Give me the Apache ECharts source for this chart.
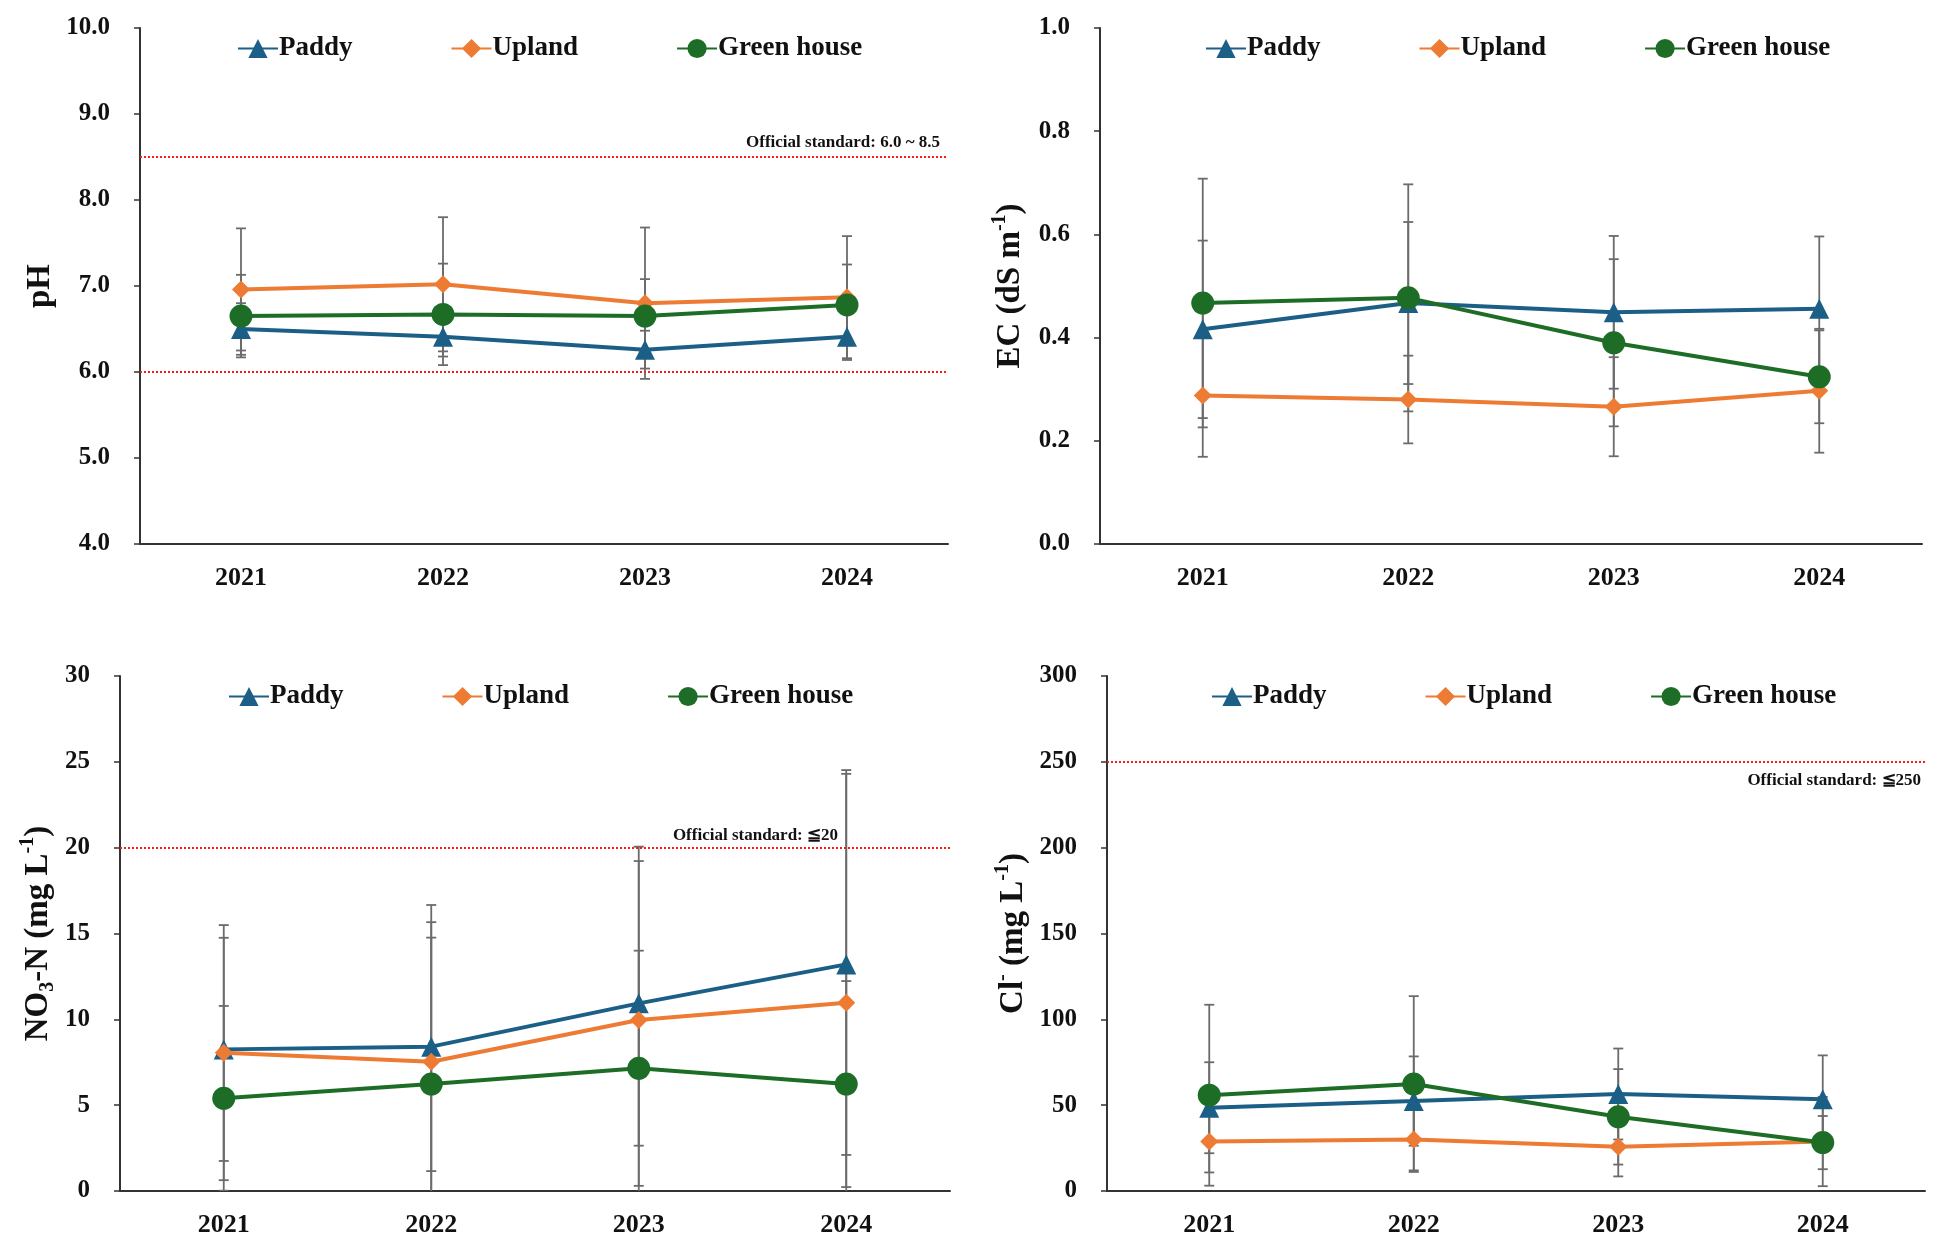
<!DOCTYPE html>
<html><head><meta charset="utf-8">
<script src="https://cdn.jsdelivr.net/npm/echarts/dist/echarts.min.js"></script>
<style>html,body{margin:0;padding:0;background:#fff}#c{width:1938px;height:1243px}</style>
</head><body><div id="c"></div><script>
// ---------- data ----------
const years = ['2021', '2022', '2023', '2024'];
const seriesNames = ['Paddy', 'Upland', 'Green house'];

const phPaddy = [6.50, 6.41, 6.26, 6.41];
const phPaddySd = [0.30, 0.23, 0.22, 0.27];
const phUpland = [6.96, 7.02, 6.80, 6.87];
const phUplandSd = [0.71, 0.78, 0.88, 0.71];
const phGreen = [6.65, 6.67, 6.65, 6.78];
const phGreenSd = [0.48, 0.59, 0.43, 0.47];

const ecPaddy = [0.416, 0.467, 0.449, 0.456];
const ecPaddySd = [0.172, 0.157, 0.148, 0.140];
const ecUpland = [0.288, 0.280, 0.266, 0.297];
const ecUplandSd = [0.119, 0.085, 0.096, 0.120];
const ecGreen = [0.467, 0.477, 0.390, 0.324];
const ecGreenSd = [0.241, 0.220, 0.162, 0.090];

const no3Paddy = [8.25, 8.41, 10.93, 13.2];
const no3PaddySd = [6.50, 7.25, 8.29, 11.1];
const no3Upland = [8.06, 7.53, 9.96, 10.97];
const no3UplandSd = [7.43, 9.13, 10.1, 13.55];
const no3Green = [5.40, 6.23, 7.15, 6.23];
const no3GreenSd = [5.38, 8.53, 6.85, 6.0];

const clPaddy = [48.5, 52.4, 56.5, 53.5];
const clPaddySd = [26.5, 26.0, 26.5, 25.5];
const clUpland = [28.8, 30.0, 25.8, 28.8];
const clUplandSd = [18.0, 18.0, 17.3, 26.0];
const clGreen = [55.8, 62.3, 43.2, 28.2];
const clGreenSd = [52.7, 51.2, 27.8, 15.5];

const phStd = [6.0, 8.5];
const no3Std = [20];
const clStd = [250];
const phStdLabel = 'Official standard: 6.0 ~ 8.5';
const no3StdLabel = 'Official standard: \u226620';
const clStdLabel = 'Official standard: \u2266250';

const phTicks = {min: 4, max: 10, interval: 1};
const ecTicks = {min: 0, max: 1, interval: 0.2};
const no3Ticks = {min: 0, max: 30, interval: 5};
const clTicks = {min: 0, max: 300, interval: 50};

// ---------- styling / layout ----------
const FONT = '"Liberation Serif","Times New Roman",serif';
const COLORS = ['#1C5F86', '#EE7B33', '#1E6D26'];
const SYMBOLS = ['triangle', 'diamond', 'circle'];
const SYMSIZE = [20, 18, 23];

const panels = [
  {grid: {left: 140, top: 28, width: 808, height: 516}, ticks: phTicks, dec: 1,
   name: '{a|pH}', nameGap: 80, legend: {left: 232, top: 30},
   means: [phPaddy, phUpland, phGreen], sds: [phPaddySd, phUplandSd, phGreenSd],
   std: phStd, stdLabel: phStdLabel, labelIdx: 1, labelPos: 'insideEndTop', labelPad: [0, 4, 2, 0]},
  {grid: {left: 1100, top: 28, width: 822, height: 516}, ticks: ecTicks, dec: 1,
   name: '{a|EC (dS m}{s|-1}{a|)}', nameGap: 70, legend: {left: 1200, top: 30},
   means: [ecPaddy, ecUpland, ecGreen], sds: [ecPaddySd, ecUplandSd, ecGreenSd],
   std: null},
  {grid: {left: 120, top: 676, width: 830, height: 515}, ticks: no3Ticks, dec: 0,
   name: '{a|NO}{b|3}{a|-N (mg L}{s|-1}{a|)}', nameGap: 62, legend: {left: 223, top: 678},
   means: [no3Paddy, no3Upland, no3Green], sds: [no3PaddySd, no3UplandSd, no3GreenSd],
   std: no3Std, stdLabel: no3StdLabel, labelIdx: 0, labelPos: 'insideEndTop', labelPad: [0, 108, 0, 0]},
  {grid: {left: 1107, top: 676, width: 818, height: 515}, ticks: clTicks, dec: 0,
   name: '{a|Cl}{s|-}{a| (mg L}{s|-1}{a|)}', nameGap: 74, legend: {left: 1206, top: 678},
   means: [clPaddy, clUpland, clGreen], sds: [clPaddySd, clUplandSd, clGreenSd],
   std: clStd, stdLabel: clStdLabel, labelIdx: 0, labelPos: 'insideEndBottom', labelPad: [6, 0, 0, 0]}
];

const option = {
  backgroundColor: '#fff',
  animation: false,
  textStyle: {fontFamily: FONT},
  grid: [], xAxis: [], yAxis: [], legend: [], series: []
};

function makeErrRender(axisMin) {
  return function (params, api) {
    const xi = api.value(0), m = api.value(1), sd = api.value(2);
    const hi = m + sd;
    const loRaw = m - sd;
    const lo = Math.max(loRaw, axisMin);
    const pHi = api.coord([xi, hi]);
    const pLo = api.coord([xi, lo]);
    const cap = 5;
    const st = {stroke: '#6b6b6b', lineWidth: 1.8};
    const children = [
      {type: 'line', shape: {x1: pHi[0], y1: pHi[1], x2: pLo[0], y2: pLo[1]}, style: st},
      {type: 'line', shape: {x1: pHi[0] - cap, y1: pHi[1], x2: pHi[0] + cap, y2: pHi[1]}, style: st}
    ];
    if (loRaw >= axisMin) {
      children.push({type: 'line', shape: {x1: pLo[0] - cap, y1: pLo[1], x2: pLo[0] + cap, y2: pLo[1]}, style: st});
    }
    return {type: 'group', children: children};
  };
}

panels.forEach(function (p, gi) {
  option.grid.push(p.grid);
  option.xAxis.push({
    type: 'category', gridIndex: gi, data: years, boundaryGap: true,
    axisLine: {lineStyle: {color: '#333', width: 2}},
    axisTick: {alignWithLabel: true, length: 6, lineStyle: {color: '#333', width: 1.5}},
    axisLabel: {color: '#111', fontFamily: FONT, fontWeight: 'bold', fontSize: 26, margin: 21},
    splitLine: {show: false}
  });
  option.yAxis.push({
    type: 'value', gridIndex: gi, min: p.ticks.min, max: p.ticks.max, interval: p.ticks.interval,
    name: p.name, nameLocation: 'middle', nameGap: p.nameGap, nameRotate: 90,
    nameTextStyle: {
      color: '#111', fontFamily: FONT, fontWeight: 'bold',
      rich: {
        a: {fontSize: 33, fontWeight: 'bold', fontFamily: FONT, color: '#111', lineHeight: 40},
        s: {fontSize: 20, fontWeight: 'bold', fontFamily: FONT, color: '#111', lineHeight: 22, verticalAlign: 'top'},
        b: {fontSize: 20, fontWeight: 'bold', fontFamily: FONT, color: '#111', lineHeight: 22, verticalAlign: 'bottom'}
      }
    },
    axisLine: {show: true, lineStyle: {color: '#333', width: 2}},
    axisTick: {show: true, length: 6, lineStyle: {color: '#333', width: 1.5}},
    axisLabel: {
      color: '#111', fontFamily: FONT, fontWeight: 'bold', fontSize: 25, margin: 30,
      formatter: function (v) { return v.toFixed(p.dec); }
    },
    splitLine: {show: false}
  });
  option.legend.push({
    left: p.legend.left, top: p.legend.top, orient: 'horizontal',
    data: seriesNames, itemGap: 98, itemWidth: 40, itemHeight: 24,
    textStyle: {color: '#111', fontFamily: FONT, fontWeight: 'bold', fontSize: 27, padding: [0, 0, 0, -4]},
    selectedMode: false
  });
  // error bars behind lines
  p.means.forEach(function (arr, si) {
    option.series.push({
      type: 'custom', name: 'err' + gi + '_' + si, xAxisIndex: gi, yAxisIndex: gi,
      renderItem: makeErrRender(p.ticks.min), z: 1, silent: true, clip: true,
      encode: {x: 0, y: 1},
      data: arr.map(function (v, i) { return [i, v, p.sds[si][i]]; })
    });
  });
  p.means.forEach(function (arr, si) {
    const s = {
      type: 'line', name: seriesNames[si], xAxisIndex: gi, yAxisIndex: gi, z: 3 + si,
      data: arr, symbol: SYMBOLS[si], symbolSize: SYMSIZE[si],
      lineStyle: {color: COLORS[si], width: 4},
      itemStyle: {color: COLORS[si]}
    };
    if (p.std && si === 0) {
      s.markLine = {
        silent: true, symbol: 'none', animation: false,
        lineStyle: {color: '#FF1A1A', type: [2, 2], width: 2.2},
        data: p.std.map(function (v, k) {
          return {
            yAxis: v,
            label: k === p.labelIdx ? {
              show: true, position: p.labelPos, formatter: p.stdLabel,
              color: '#111', fontFamily: FONT, fontWeight: 'bold', fontSize: 17,
              padding: p.labelPad, distance: 4
            } : {show: false}
          };
        })
      };
    }
    option.series.push(s);
  });
});

const chart = echarts.init(document.getElementById('c'));
chart.setOption(option);
</script></body></html>
